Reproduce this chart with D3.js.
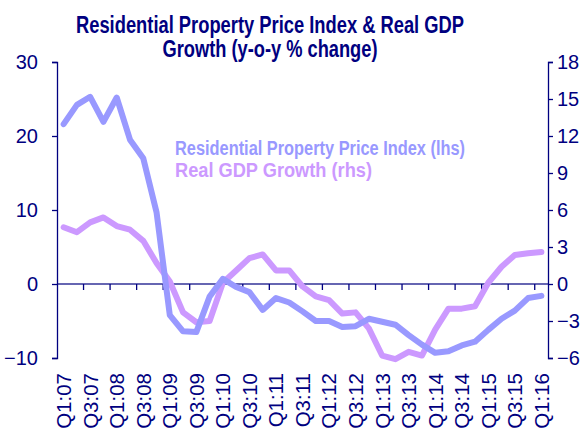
<!DOCTYPE html>
<html>
<head>
<meta charset="utf-8">
<script src="https://cdn.jsdelivr.net/npm/d3@7"></script>
<style>
  html, body { margin: 0; padding: 0; background: #fff; }
  svg { display: block; }
</style>
</head>
<body>
<svg id="chart" width="587" height="434"></svg>
<script>
const categories = [
  "Q1:07","Q2:07","Q3:07","Q4:07","Q1:08","Q2:08","Q3:08","Q4:08",
  "Q1:09","Q2:09","Q3:09","Q4:09","Q1:10","Q2:10","Q3:10","Q4:10",
  "Q1:11","Q2:11","Q3:11","Q4:11","Q1:12","Q2:12","Q3:12","Q4:12",
  "Q1:13","Q2:13","Q3:13","Q4:13","Q1:14","Q2:14","Q3:14","Q4:14",
  "Q1:15","Q2:15","Q3:15","Q4:15","Q1:16"
];
// Residential Property Price Index, y-o-y % (lhs)
const propertyIndex = [
  21.6, 24.2, 25.3, 21.9, 25.2, 19.5, 17.0, 9.7,
  -4.2, -6.4, -6.5, -1.7, 0.7, -0.4, -1.1, -3.5,
  -1.9, -2.5, -3.7, -5.0, -5.0, -5.8, -5.7, -4.7,
  -5.1, -5.5, -6.9, -8.2, -9.3, -9.1, -8.3, -7.8,
  -6.2, -4.7, -3.6, -1.9, -1.6
];
// Real GDP Growth, y-o-y % (rhs)
const gdpGrowth = [
  4.6, 4.2, 5.0, 5.4, 4.7, 4.4, 3.5, 1.7,
  0.2, -2.3, -3.1, -3.0, 0.1, 1.1, 2.1, 2.4,
  1.1, 1.1, -0.2, -1.0, -1.3, -2.4, -2.3, -3.6,
  -5.8, -6.1, -5.5, -5.8, -3.7, -2.0, -2.0, -1.8,
  0.1, 1.4, 2.35, 2.5, 2.6
];
const leftTicks = [-10, 0, 10, 20, 30];
const rightTicks = [-6, -3, 0, 3, 6, 9, 12, 15, 18];
const titleLines = ["Residential Property Price Index & Real GDP", "Growth (y-o-y % change)"];
const legendLabels = ["Residential Property Price Index (lhs)", "Real GDP Growth (rhs)"];

const navy = "#000080";
const colProp = "#9999FF";
const colGdp = "#CC99FF";
const axisFont = "'Liberation Sans', Arial, Helvetica, sans-serif";

const svg = d3.select("#chart");
const L = 57, R = 548, T = 62, B = 358;

const x = d3.scaleBand().domain(categories).range([L, R]).paddingInner(0).paddingOuter(0);
const bw = x.bandwidth();
const cx = d => x(d) + bw / 2;
const yL = d3.scaleLinear().domain([-10, 30]).range([B, T]);
const yR = d3.scaleLinear().domain([-6, 18]).range([B, T]);

// Title
svg.append("g").selectAll("text").data(titleLines).join("text")
  .attr("x", 270).attr("y", (d, i) => i === 0 ? 33 : 56.5)
  .attr("text-anchor", "middle")
  .attr("font-family", axisFont).attr("font-weight", "bold")
  .attr("font-size", 23).attr("fill", navy)
  .attr("textLength", (d, i) => i === 0 ? 388 : 215)
  .attr("lengthAdjust", "spacingAndGlyphs")
  .text(d => d);

// Left axis
const gL = svg.append("g").attr("transform", `translate(${L},0)`)
  .call(d3.axisLeft(yL).tickValues(leftTicks).tickSize(5).tickPadding(14).tickFormat(d3.format("d")));
// Right axis
const gR = svg.append("g").attr("transform", `translate(${R},0)`)
  .call(d3.axisRight(yR).tickValues(rightTicks).tickSize(5).tickPadding(4).tickFormat(d3.format("d")));
[gL, gR].forEach(g => {
  g.selectAll("path.domain").attr("stroke", navy).attr("stroke-width", 1.3);
  g.selectAll(".tick line").attr("stroke", navy).attr("stroke-width", 1.3);
  g.selectAll(".tick text").attr("fill", navy).attr("font-family", axisFont).attr("font-size", 20);
});

// X axis at zero
const y0 = yL(0);
const gX = svg.append("g");
gX.append("line").attr("x1", L).attr("x2", R).attr("y1", y0).attr("y2", y0)
  .attr("stroke", navy).attr("stroke-width", 1.3).attr("stroke-opacity", 0.8);
const tickCats = categories.filter((d, i) => i > 0 && i % 2 === 0);
gX.selectAll("line.tk").data(tickCats).join("line").attr("class", "tk")
  .attr("x1", d => x(d)).attr("x2", d => x(d))
  .attr("y1", y0).attr("y2", y0 + 6)
  .attr("stroke", navy).attr("stroke-width", 1.3);

// X labels (every other quarter)
const labelCats = categories.filter((d, i) => i % 2 === 0);
svg.append("g").selectAll("text").data(labelCats).join("text")
  .attr("transform", d => `translate(${cx(d)},373) rotate(-90)`)
  .attr("text-anchor", "end").attr("dy", "0.36em")
  .attr("font-family", axisFont).attr("font-size", 20.5).attr("fill", navy)
  .text(d => d);

// Lines
const lineGdp = d3.line().x((d, i) => cx(categories[i])).y(d => yR(d));
const lineProp = d3.line().x((d, i) => cx(categories[i])).y(d => yL(d));
svg.append("path").datum(gdpGrowth).attr("d", lineGdp)
  .attr("fill", "none").attr("stroke", colGdp).attr("stroke-width", 6)
  .attr("stroke-linejoin", "round").attr("stroke-linecap", "round");
svg.append("path").datum(propertyIndex).attr("d", lineProp)
  .attr("fill", "none").attr("stroke", colProp).attr("stroke-width", 6)
  .attr("stroke-linejoin", "round").attr("stroke-linecap", "round");

// Legend labels
svg.append("g").selectAll("text").data(legendLabels).join("text")
  .attr("x", 175).attr("y", (d, i) => i === 0 ? 155 : 177)
  .attr("font-family", axisFont).attr("font-weight", "bold")
  .attr("font-size", 20).attr("fill", (d, i) => i === 0 ? colProp : colGdp)
  .attr("textLength", (d, i) => i === 0 ? 290 : 197)
  .attr("lengthAdjust", "spacingAndGlyphs")
  .text(d => d);
</script>
</body>
</html>
